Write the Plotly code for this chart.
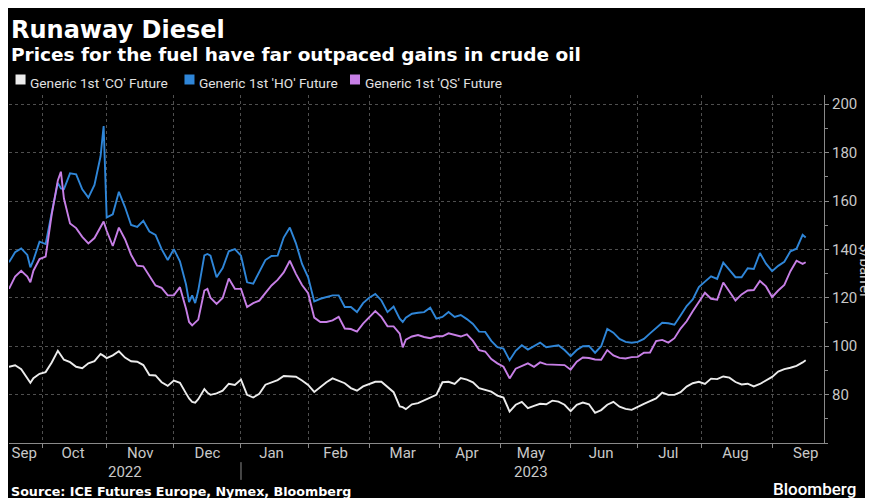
import pandas as pd
import plotly.graph_objects as go

# ---------------- data ----------------
START = "2022-09-16"          # first trading day shown
N_DAYS = 262                  # trading days in the window
# trading-day offsets (from START) at which values were read off the chart
DAY_INDEX = [0, 2, 4, 6, 7, 8, 10, 12, 14, 16,
             17, 18, 20, 22, 24, 26, 28, 30, 31, 32,
             34, 36, 38, 40, 42, 44, 46, 48, 50, 52,
             54, 56, 58, 59, 60, 61, 62, 64, 65, 66,
             68, 70, 72, 74, 76, 78, 80, 82, 84, 86,
             88, 90, 92, 94, 96, 98, 100, 102, 104, 106,
             108, 110, 112, 114, 116, 118, 120, 122, 124, 126,
             128, 129, 130, 132, 134, 136, 138, 140, 142, 144,
             146, 148, 150, 152, 154, 156, 158, 160, 162, 164,
             166, 168, 170, 172, 174, 176, 178, 180, 182, 184,
             186, 188, 190, 192, 194, 196, 198, 200, 202, 204,
             206, 208, 210, 212, 214, 216, 218, 220, 222, 224,
             226, 228, 230, 232, 234, 236, 238, 240, 242, 244,
             246, 248, 250, 252, 254, 256, 258, 260, 261]

HO = [134.7, 138.8, 140.4, 137.7, 132.6, 135.6, 143.2, 142.2, 155.2, 167.5,
      165.2, 164.9, 171.4, 171.0, 164.8, 161.4, 166.6, 178.5, 191.0, 153.2,
      154.5, 163.8, 157.5, 150.1, 149.3, 151.8, 147.4, 146.0, 140.1, 135.6,
      140.1, 135.1, 125.5, 118.2, 121.0, 117.8, 123.0, 137.5, 138.1, 137.4,
      128.5, 132.3, 139.2, 140.1, 137.4, 126.4, 125.8, 130.5, 135.6, 137.3,
      137.4, 144.9, 149.0, 142.5, 134.0, 128.5, 118.5, 119.6, 120.3, 121.0,
      121.0, 116.2, 116.2, 114.1, 117.8, 120.0, 121.6, 118.9, 114.1, 116.4,
      111.4, 110.0, 111.8, 113.4, 113.8, 114.1, 115.9, 111.4, 112.1, 114.1,
      112.1, 112.9, 111.2, 109.2, 106.0, 105.9, 102.2, 99.6, 99.0, 94.2,
      98.1, 100.4, 98.6, 99.9, 101.5, 99.6, 99.9, 100.4, 98.4, 95.9,
      98.4, 100.0, 100.1, 97.3, 100.0, 107.1, 105.6, 103.0, 101.8, 101.4,
      101.8, 103.0, 105.3, 107.7, 109.7, 109.5, 108.9, 112.7, 116.6, 119.3,
      124.4, 126.7, 128.9, 127.8, 134.5, 131.5, 128.5, 128.5, 132.2, 131.9,
      138.5, 134.1, 131.0, 133.2, 134.9, 139.2, 140.3, 146.0, 144.9]

QS = [123.7, 128.8, 131.2, 128.8, 126.4, 131.2, 136.0, 137.0, 154.5, 168.5,
      172.1, 161.0, 150.7, 148.8, 145.2, 142.5, 144.7, 149.3, 151.5, 147.7,
      141.4, 149.0, 144.2, 137.8, 133.3, 133.0, 128.8, 125.1, 124.1, 121.0,
      121.0, 124.4, 115.5, 110.0, 108.6, 110.0, 111.0, 123.0, 123.7, 120.0,
      117.5, 119.9, 128.0, 123.7, 123.7, 116.2, 117.8, 118.8, 121.9, 125.1,
      127.4, 130.5, 135.3, 129.9, 125.3, 121.9, 111.8, 110.0, 110.0, 110.7,
      112.1, 107.3, 107.1, 106.0, 109.3, 112.1, 114.5, 112.1, 108.2, 108.2,
      105.2, 99.5, 102.7, 104.0, 104.6, 103.8, 103.3, 104.1, 104.1, 105.3,
      104.8, 104.0, 104.9, 102.2, 98.4, 97.8, 94.7, 92.9, 91.5, 86.7,
      90.7, 91.8, 92.9, 91.5, 93.3, 92.5, 92.5, 92.2, 92.2, 90.3,
      93.6, 95.3, 95.1, 94.5, 94.4, 98.4, 96.2, 95.2, 94.9, 95.5,
      95.6, 97.3, 97.4, 102.1, 102.6, 101.5, 103.3, 107.3, 110.3, 114.4,
      118.1, 122.1, 119.6, 119.2, 126.3, 122.6, 118.9, 121.4, 123.0, 123.2,
      127.0, 124.7, 120.3, 123.0, 125.3, 131.0, 135.3, 134.0, 134.7]

CO = [91.5, 92.1, 90.5, 86.7, 84.9, 86.8, 88.6, 89.3, 93.3, 98.1,
      96.3, 94.4, 93.4, 91.5, 90.9, 92.9, 93.8, 96.8, 96.0, 95.1,
      96.2, 97.9, 95.3, 93.8, 93.6, 92.2, 88.1, 87.9, 85.1, 83.6,
      85.8, 84.9, 80.5, 78.4, 77.0, 76.7, 78.1, 82.3, 80.8, 79.9,
      80.5, 81.6, 84.5, 84.0, 86.2, 79.9, 78.8, 80.3, 84.1, 84.9,
      86.0, 87.7, 87.7, 87.4, 85.8, 84.0, 81.1, 83.3, 85.1, 86.7,
      85.8, 84.7, 82.7, 81.6, 83.4, 84.5, 85.3, 85.3, 83.0, 81.0,
      75.1, 74.8, 74.0, 76.0, 76.5, 77.7, 78.6, 79.9, 85.1, 85.3,
      84.4, 86.8, 86.2, 85.1, 82.7, 82.1, 81.2, 79.6, 78.8, 73.0,
      75.8, 77.0, 74.4, 75.3, 76.2, 76.0, 77.5, 77.1, 75.8, 73.2,
      75.8, 76.7, 76.0, 72.5, 73.6, 75.8, 77.0, 75.0, 74.1, 73.7,
      75.1, 76.2, 77.3, 78.4, 80.8, 79.9, 79.9, 81.0, 83.3, 84.7,
      85.3, 84.4, 86.6, 86.4, 87.5, 87.0, 85.2, 84.2, 84.5, 83.4,
      84.4, 85.9, 87.3, 89.5, 90.5, 91.1, 91.9, 93.3, 94.2]

assert len(DAY_INDEX) == len(HO) == len(QS) == len(CO)

SERIES_NAMES = ["Generic 1st 'CO' Future", "Generic 1st 'HO' Future", "Generic 1st 'QS' Future"]
SERIES_COLORS = ["#ececec", "#2f86d8", "#c77fe6"]

MONTH_STARTS = ["2022-10-03", "2022-11-01", "2022-12-01", "2023-01-02", "2023-02-01",
                "2023-03-01", "2023-04-03", "2023-05-01", "2023-06-01", "2023-07-03",
                "2023-08-01", "2023-09-01"]
MONTH_LABEL_DATES = ["2022-09-23", "2022-10-17", "2022-11-16", "2022-12-16", "2023-01-16",
                     "2023-02-14", "2023-03-16", "2023-04-14", "2023-05-15", "2023-06-15",
                     "2023-07-17", "2023-08-16", "2023-09-18"]
MONTH_LABELS = ["Sep", "Oct", "Nov", "Dec", "Jan", "Feb", "Mar", "Apr", "May", "Jun",
                "Jul", "Aug", "Sep"]
YEAR_LABELS = ["2022", "2023"]
YEAR_LABEL_DATES = ["2022-11-09", "2023-05-15"]
Y_TICKS = [80, 100, 120, 140, 160, 180, 200]

# ---------------- figure ----------------
trading_days = pd.bdate_range(START, periods=N_DAYS)
dates = trading_days[DAY_INDEX]

fig = go.Figure()
for name, vals, color in zip(SERIES_NAMES, [CO, HO, QS], SERIES_COLORS):
    fig.add_trace(go.Scatter(x=dates, y=vals, mode="lines", name=name,
                             line=dict(color=color, width=1.9), showlegend=False))

GRID = "#4f4f4f"
AXIS = "#8a8a8a"
TICKFONT = dict(family="Roboto", size=15, color="#c8c8c8")

fig.update_layout(
    width=873, height=498,
    paper_bgcolor="black", plot_bgcolor="black",
    margin=dict(l=1, r=57, t=87, b=63, autoexpand=False),
    font=dict(family="Roboto", color="#cccccc"),
    showlegend=False,
    xaxis=dict(type="date", range=[START, "2023-09-26"],
               rangebreaks=[dict(bounds=["sat", "mon"])],
               tickmode="array", tickvals=MONTH_LABEL_DATES, ticktext=MONTH_LABELS,
               ticks="", showgrid=False, zeroline=False, ticklabelstandoff=-4,
               showline=True, linecolor=AXIS, linewidth=1,
               tickfont=TICKFONT,
               minor=dict(tickmode="array", tickvals=MONTH_STARTS, ticks="outside",
                          ticklen=4, tickcolor=AXIS, showgrid=True, gridcolor=GRID,
                          griddash="dot", gridwidth=1)),
    yaxis=dict(side="right", range=[60, 203.8], tickmode="array", tickvals=Y_TICKS,
               ticks="outside", ticklen=4, tickcolor=AXIS,
               showgrid=True, gridcolor=GRID, griddash="dot", gridwidth=1,
               showline=True, linecolor=AXIS, linewidth=1, zeroline=False,
               tickfont=TICKFONT,
               minor=dict(dtick=10, tick0=0, ticks="outside", ticklen=3,
                          tickcolor=AXIS, showgrid=False)),
)

annotations = [
    dict(text="<b>Runaway Diesel</b>", x=0, y=1.188, xref="paper", yref="paper",
         xanchor="left", yanchor="middle", showarrow=False,
         font=dict(family="DejaVu Sans", size=24, color="white")),
    dict(text="<b>Prices for the fuel have far outpaced gains in crude oil</b>", x=0, y=1.116,
         xref="paper", yref="paper", xanchor="left", yanchor="middle", showarrow=False,
         font=dict(family="DejaVu Sans", size=18.5, color="white")),
    dict(text="<b>Source: ICE Futures Europe, Nymex, Bloomberg</b>", x=0, y=-0.138,
         xref="paper", yref="paper", xanchor="left", yanchor="middle", showarrow=False,
         font=dict(family="DejaVu Sans", size=12.7, color="white")),
    dict(text="Bloomberg", x=1.042, y=-0.132, xref="paper", yref="paper",
         xanchor="right", yanchor="middle", showarrow=False,
         font=dict(family="Roboto", size=17, color="white", weight=500)),
    dict(text="$/barrel", x=1.0505, y=0.497, xref="paper", yref="paper",
         xanchor="center", yanchor="middle", showarrow=False, textangle=90,
         font=dict(family="Roboto", size=15, color="#c8c8c8")),
]
for lab, d in zip(YEAR_LABELS, YEAR_LABEL_DATES):
    annotations.append(dict(text=lab, x=d, y=-0.0825, xref="x", yref="paper",
                            xanchor="center", yanchor="middle", showarrow=False,
                            font=TICKFONT))

# legend row (colour key): square swatch + series name
KEY_SWATCH_X = [(0.0080, 0.0203), (0.2153, 0.2276), (0.4184, 0.4307)]
KEY_TEXT_X = [0.0238, 0.2311, 0.4344]
for name, color, (sx0, sx1), tx in zip(SERIES_NAMES, SERIES_COLORS, KEY_SWATCH_X, KEY_TEXT_X):
    fig.add_shape(type="rect", xref="paper", yref="paper", x0=sx0, x1=sx1,
                  y0=1.0302, y1=1.0589, fillcolor=color, line=dict(width=0))
    annotations.append(dict(text=name, x=tx, y=1.0359, xref="paper", yref="paper",
                            xanchor="left", yanchor="middle", showarrow=False,
                            font=dict(family="Roboto", size=13.7, color="#e0e0e0")))

fig.update_layout(annotations=annotations)

fig.add_shape(type="line", xref="x", yref="paper", x0="2023-01-02", x1="2023-01-02",
              y0=-0.055, y1=-0.106, line=dict(color=AXIS, width=1))

fig.write_html("out.html")
